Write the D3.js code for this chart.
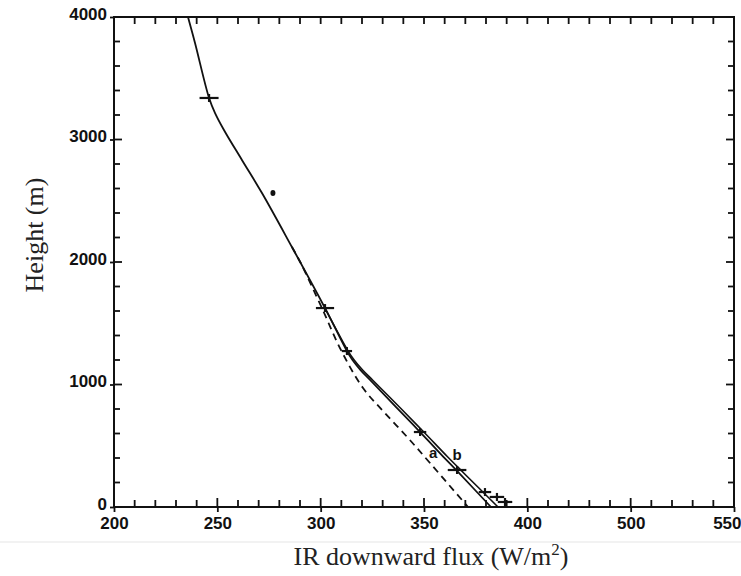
<!DOCTYPE html>
<html>
<head>
<meta charset="utf-8">
<script src="https://cdn.jsdelivr.net/npm/d3@7"></script>
<style>
  body { margin: 0; background: #fff; }
  .tick text { font-family: "Liberation Sans", Arial, sans-serif; font-weight: bold; font-size: 17px; fill: #111; }
  .title { font-family: "Liberation Serif", "Times New Roman", serif; font-size: 26px; fill: #222; }
</style>
</head>
<body>
<svg id="chart" width="741" height="576"></svg>
<script>
// x tick labels as printed on the original figure (note: 450 is labelled "500")
const xTickValues = [200, 250, 300, 350, 400, 450, 500];
const xTickLabels = ["200", "250", "300", "350", "400", "500", "550"];
const yTickValues = [0, 1000, 2000, 3000, 4000];

// curve a (single line at the top, pair with b below ~1600 m)
const aFlux   = [235.8, 239.2, 246.0, 248.9, 253.2, 261.9, 271.6, 286.1, 302.1, 312.7, 315.4, 319.3, 323.9, 336.5, 348.1, 359.5, 366.9, 382.4];
const aHeight = [4000, 3788, 3339, 3216, 3078, 2833, 2563, 2122, 1624, 1273, 1200, 1118, 1037, 816, 612, 408, 278, 0];

// curve b
const bFlux   = [302.1, 313.3, 316.2, 320.3, 325.1, 338.1, 349.9, 361.5, 369.2, 385.8];
const bHeight = [1624, 1273, 1200, 1118, 1037, 816, 612, 408, 278, 0];

// dashed curve
const dFlux   = [286.1, 290.1, 300.6, 309.8, 320.5, 331.1, 342.3, 352.9, 371.3];
const dHeight = [2122, 2000, 1624, 1282, 971, 767, 563, 359, 0];

// measurements with horizontal error bars
const obsFlux   = [246.0, 302.1, 312.7, 348.1, 366.0, 379.5, 385.3, 389.2];
const obsHeight = [3339, 1624, 1273, 612, 302, 122, 82, 41];
const obsErr    = [4.6, 4.4, 2.5, 3, 4.5, 3, 3.5, 3.5];

// single dot
const dotFlux = 276.9, dotHeight = 2563;

const svg = d3.select("#chart");
const mLeft = 114, mRight = 734, mTop = 17, mBottom = 507;

const x = d3.scaleLinear().domain([200, 500]).range([mLeft, mRight]);
const y = d3.scaleLinear().domain([0, 4000]).range([mBottom, mTop]);

const ink = "#111";

// faint scan edge below the figure
svg.append("line").attr("x1", 0).attr("x2", 741).attr("y1", 542).attr("y2", 542)
  .attr("stroke", "#eeeeee").attr("stroke-width", 1.5);

// frame
svg.append("rect").attr("x", mLeft).attr("y", mTop).attr("width", mRight - mLeft).attr("height", mBottom - mTop)
  .attr("fill", "none").attr("stroke", ink).attr("stroke-width", 2);

// tick marks (inward)
const xMinor = d3.range(200, 501, 10);
const yMinor = d3.range(0, 4001, 200);
const ticks = svg.append("g").attr("stroke", ink).attr("stroke-width", 1.8);
xMinor.forEach(v => {
  const major = v % 50 === 0;
  ticks.append("line").attr("x1", x(v)).attr("x2", x(v)).attr("y1", mBottom).attr("y2", mBottom - (major ? 9 : 7));
  ticks.append("line").attr("x1", x(v)).attr("x2", x(v)).attr("y1", mTop).attr("y2", mTop + 7);
});
yMinor.forEach(v => {
  const major = v % 1000 === 0;
  ticks.append("line").attr("x1", mLeft).attr("x2", mLeft + (major ? 8 : 6)).attr("y1", y(v)).attr("y2", y(v));
  ticks.append("line").attr("x1", mRight).attr("x2", mRight - (major ? 8 : 6)).attr("y1", y(v)).attr("y2", y(v));
});

// axes for outer tick parts and labels
const xAxis = svg.append("g").attr("transform", `translate(0,${mBottom})`)
  .call(d3.axisBottom(x).tickValues(xTickValues).tickFormat((d, i) => xTickLabels[i]).tickSize(5).tickPadding(5));
const yAxis = svg.append("g").attr("transform", `translate(${mLeft},0)`)
  .call(d3.axisLeft(y).tickValues(yTickValues).tickFormat(d3.format("d")).tickSize(4).tickPadding(3));
[xAxis, yAxis].forEach(g => {
  g.select(".domain").remove();
  g.selectAll(".tick line").attr("stroke", ink).attr("stroke-width", 1.8);
});
// y labels sit slightly above their ticks in the original
yAxis.selectAll(".tick text").attr("y", -3);
// last label sits against the right edge in the original
xAxis.selectAll(".tick text").filter((d, i) => i === xTickValues.length - 1)
  .attr("text-anchor", "end").attr("dx", 7);

// curves
const line = d3.line().x(d => x(d[0])).y(d => y(d[1])).curve(d3.curveCatmullRom.alpha(0.5));
const zip = (a, b) => a.map((v, i) => [v, b[i]]);

svg.append("path").datum(zip(aFlux, aHeight)).attr("d", line)
  .attr("fill", "none").attr("stroke", ink).attr("stroke-width", 1.8);
svg.append("path").datum(zip(bFlux, bHeight)).attr("d", line)
  .attr("fill", "none").attr("stroke", ink).attr("stroke-width", 1.6);
svg.append("path").datum(zip(dFlux, dHeight)).attr("d", line)
  .attr("fill", "none").attr("stroke", ink).attr("stroke-width", 1.8).attr("stroke-dasharray", "7,5");

// observations
const obs = svg.append("g").attr("stroke", ink).attr("stroke-width", 2.2);
obsFlux.forEach((f, i) => {
  obs.append("line").attr("x1", x(f - obsErr[i])).attr("x2", x(f + obsErr[i]))
    .attr("y1", y(obsHeight[i])).attr("y2", y(obsHeight[i]));
  obs.append("line").attr("x1", x(f)).attr("x2", x(f))
    .attr("y1", y(obsHeight[i]) - 4).attr("y2", y(obsHeight[i]) + 4);
});
svg.append("ellipse").attr("cx", x(dotFlux)).attr("cy", y(dotHeight)).attr("rx", 2.5).attr("ry", 3).attr("fill", ink);

// curve labels
svg.append("text").attr("x", x(354.4)).attr("y", y(400)).attr("text-anchor", "middle")
  .style("font", "bold 15px 'Liberation Sans', Arial, sans-serif").attr("fill", ink).text("a");
svg.append("text").attr("x", x(366)).attr("y", y(380)).attr("text-anchor", "middle")
  .style("font", "bold 15px 'Liberation Sans', Arial, sans-serif").attr("fill", ink).text("b");

// axis titles
svg.append("text").attr("class", "title").attr("x", 431).attr("y", 565).attr("text-anchor", "middle")
  .html('IR downward flux (W/m<tspan dy="-10" font-size="17">2</tspan><tspan dy="10">)</tspan>');
svg.append("text").attr("class", "title").attr("transform", "translate(43,235) rotate(-90)")
  .attr("text-anchor", "middle").text("Height (m)");
</script>
</body>
</html>
